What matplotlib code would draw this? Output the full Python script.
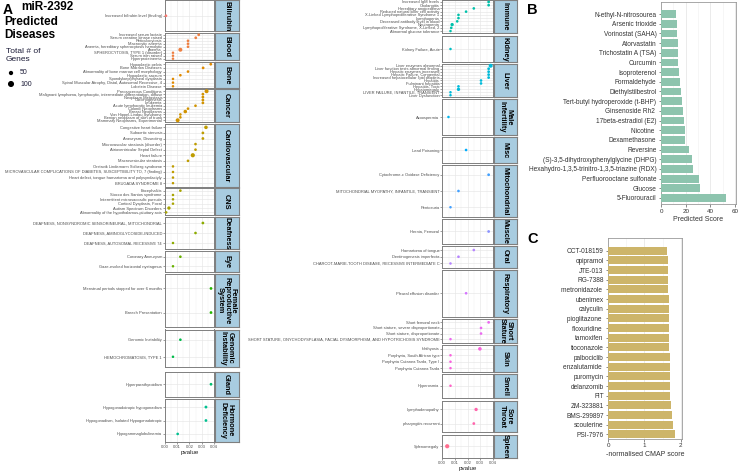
import numpy as np
import matplotlib
matplotlib.use('Agg')
import matplotlib.pyplot as plt

plt.rcParams['font.family'] = ['Liberation Sans', 'DejaVu Sans']

# ---- panel A data: disease categories, names, pvalues, gene counts ----
categories = ['Bilirubin', 'Blood', 'Bone', 'Cancer', 'Cardiovascular', 'CNS', 'Deafness', 'Eye',
              'Female\nReproductive\nSystem', 'Genomic\nInstability', 'Gland', 'Hormone\nDeficiency',
              'Immune', 'Kidney', 'Liver', 'Male\nInfertility', 'Misc', 'Mitochondrial', 'Muscle', 'Oral',
              'Respiratory', 'Short\nStature', 'Skin', 'Smell', 'Sore\nThroat', 'Spleen']

disease_names = [
    ['Increased bilirubin level (finding)'],
    ['Increased serum lactate', 'Serum creatine kinase raised', 'Reticulocytosis', 'Macrocytic anemia',
     'Anemia, hereditary spherocytosis hemolytic', 'Anemia', 'SPHEROCYTOSIS, TYPE 1 (disorder)',
     'Serum iron raised', 'Hyperproteinemia'],
    ['Hypoplastic pelvis', 'Bone Marrow Diseases', 'Abnormality of bone marrow cell morphology',
     'Hypoplastic sacrum', 'Spondyloepiphyseal dysplasia',
     'Spinal Muscular Atrophy, Distal, Autosomal Recessive, 4', 'Lobstein Disease'],
    ['Precancerous Conditions', 'Malignant lymphoma, lymphocytic, intermediate differentiation, diffuse',
     'Neoplasm Metastasis', 'Carcinogenesis', 'Leukemia', 'Acute lymphocytic leukemia', 'Colonic Neoplasms',
     'Breast Neoplasms', 'Von Hippel-Lindau Syndrome', 'Benign neoplasm of skin of trunk',
     'Mammary Neoplasms, Experimental'],
    ['Congestive heart failure', 'Subaortic stenosis', 'Aneurysm, Dissecting',
     'Microvascular steatosis (disorder)', 'Atrioventricular Septal Defect', 'Heart failure',
     'Macrovesicular steatosis', 'Orstavik Lindemann Solberg syndrome',
     'MICROVASCULAR COMPLICATIONS OF DIABETES, SUSCEPTIBILITY TO, 7 (finding)',
     'Heart defect, tongue hamartoma and polysyndactyly', 'BRUGADA SYNDROME 8'],
    ['Encephalitis', 'Stocco dos Santos syndrome', 'Intermittent microsaccadic pursuits',
     'Cortical Dysplasia, Focal', 'Autism Spectrum Disorders',
     'Abnormality of the hypothalamus-pituitary axis'],
    ['DEAFNESS, NONSYNDROMIC SENSORINEURAL, MITOCHONDRIAL', 'DEAFNESS, AMINOGLYCOSIDE-INDUCED',
     'DEAFNESS, AUTOSOMAL RECESSIVE 74'],
    ['Coronary Aneurysm', 'Gaze-evoked horizontal nystagmus'],
    ['Menstrual periods stopped for over 6 months', 'Breech Presentation'],
    ['Genomic Instability', 'HEMOCHROMATOSIS, TYPE 1'],
    ['Hyperparathyroidism'],
    ['Hypogonadotropic hypogonadism', 'Hypogonadism, Isolated Hypogonadotropic', 'Hypogammaglobulinemia'],
    ['Increased IgM levels', 'Cholangitis', 'Hereditary angioedema', 'Reduced natural killer cell activity',
     'X-Linked Lymphoproliferative Syndrome 1', 'Lymphopenia', 'Decreased antibody level in blood',
     'Neutropenia', 'Lymphoproliferative Syndrome, X-Linked, 2', 'Abnormal glucose tolerance'],
    ['Kidney Failure, Acute'],
    ['Liver enzymes abnormal', 'Liver function tests abnormal finding', 'Hepatic enzymes increased',
     'Hepatic Failure, Congenital', 'Increased hepatocellular lipid droplets', 'Hepatitis',
     'Fulminant hepatitis', 'Hepatitis, Toxic', 'Hepatomegaly', 'LIVER FAILURE, INFANTILE, TRANSIENT',
     'Liver Dysfunction'],
    ['Azoospermia'],
    ['Lead Poisoning'],
    ['Cytochrome-c Oxidase Deficiency', 'MITOCHONDRIAL MYOPATHY, INFANTILE, TRANSIENT', 'Pentosuria'],
    ['Hernia, Femoral'],
    ['Hamartoma of tongue', 'Dentinogenesis imperfecta', 'CHARCOT-MARIE-TOOTH DISEASE, RECESSIVE INTERMEDIATE C'],
    ['Pleural effusion disorder'],
    ['Short femoral neck', 'Short stature, severe disproportionate', 'Short stature, disproportionate',
     'SHORT STATURE, ONYCHODYSPLASIA, FACIAL DYSMORPHISM, AND HYPOTRICHOSIS SYNDROME'],
    ['Ichthyosis', 'Porphyria, South African type', 'Porphyria Cutanea Tarda, Type I', 'Porphyria Cutanea Tarda'],
    ['Hyperosmia'],
    ['Lymphadenopathy', 'pharyngitis recurrent'],
    ['Splenomegaly'],
]

disease_pvals = [
    [0.0010],
    [0.0276, 0.0252, 0.0189, 0.0189, 0.0189, 0.0127, 0.0067, 0.0067, 0.0067],
    [0.0374, 0.0312, 0.0189, 0.0127, 0.0067, 0.0067, 0.0067],
    [0.0340, 0.0310, 0.0310, 0.0310, 0.0310, 0.0250, 0.0189, 0.0167, 0.0127, 0.0127, 0.0105],
    [0.0335, 0.0310, 0.0310, 0.0250, 0.0250, 0.0228, 0.0189, 0.0067, 0.0067, 0.0067, 0.0067],
    [0.0127, 0.0067, 0.0067, 0.0067, 0.0034, 0.0012],
    [0.0310, 0.0250, 0.0067],
    [0.0127, 0.0067],
    [0.0376, 0.0376],
    [0.0127, 0.0067],
    [0.0376],
    [0.0335, 0.0335, 0.0105],
    [0.0366, 0.0366, 0.0249, 0.0188, 0.0128, 0.0128, 0.0118, 0.0078, 0.0071, 0.0065],
    [0.0065],
    [0.0382, 0.0366, 0.0366, 0.0366, 0.0366, 0.0306, 0.0306, 0.0128, 0.0128, 0.0065, 0.0065],
    [0.0049],
    [0.0188],
    [0.0366, 0.0128, 0.0065],
    [0.0366],
    [0.0249, 0.0128, 0.0065],
    [0.0188],
    [0.0366, 0.0306, 0.0306, 0.0065],
    [0.0297, 0.0065, 0.0065, 0.0065],
    [0.0065],
    [0.0267, 0.0249],
    [0.0039],
]

disease_genes = [
    [22],
    [24, 24, 22, 22, 22, 50, 20, 20, 20],
    [24, 24, 22, 22, 20, 20, 20],
    [50, 24, 24, 24, 24, 22, 22, 40, 22, 22, 50],
    [40, 24, 24, 22, 22, 55, 22, 20, 20, 20, 20],
    [22, 20, 20, 20, 35, 20],
    [24, 22, 20],
    [22, 20],
    [24, 24],
    [22, 20],
    [24],
    [26, 24, 22],
    [24, 24, 22, 22, 22, 22, 22, 35, 22, 20],
    [20],
    [50, 24, 24, 24, 24, 22, 22, 22, 35, 20, 20],
    [20],
    [22],
    [24, 22, 20],
    [24],
    [22, 22, 20],
    [22],
    [24, 22, 22, 20],
    [40, 20, 20, 20],
    [20],
    [35, 24],
    [55],
]

legend_genes = [50, 100]

# ---- panel B data ----
chem_names = ['N-ethyl-N-nitrosourea', 'Arsenic trioxide', 'Vorinostat (SAHA)', 'Atorvastatin',
              'Trichostatin A (TSA)', 'Curcumin', 'Isoproterenol', 'Formaldehyde', 'Diethylstilbestrol',
              'Tert-butyl hydroperoxide (t-BHP)', 'Ginsenoside Rh2 ', '17beta-estradiol (E2)', 'Nicotine ',
              'Dexamethasone', 'Reversine', '(S)-3,5-dihydroxyphenylglycine (DHPG)',
              'Hexahydro-1,3,5-trinitro-1,3,5-triazine (RDX)', 'Perfluorooctane sulfonate', 'Glucose',
              '5-Fluorouracil']
chem_scores = [11.9, 12.7, 13.0, 13.5, 13.8, 14.1, 14.9, 15.4, 16.2, 17.3, 17.6, 18.4, 19.5, 19.7,
               23.0, 24.9, 25.9, 31.1, 31.9, 53.0]

# ---- panel C data ----
cmap_names = ['CCT-018159', 'opipramol', 'JTE-013', 'RG-7388', 'metronidazole ', 'ubenimex', 'calyculin',
              'pioglitazone ', 'floxuridine ', 'tamoxifen', 'tioconazole', 'palbociclib', 'enzalutamide ',
              'puromycin', 'delanzomib', 'FIT', 'ZM-323881', 'BMS-299897', 'scoulerine', 'PSI-7976']
cmap_scores = [1.63, 1.64, 1.65, 1.65, 1.66, 1.67, 1.67, 1.67, 1.68, 1.69, 1.69, 1.70, 1.70, 1.71,
               1.72, 1.72, 1.74, 1.76, 1.78, 1.85]


def hue_pal(n, c=100.0, l=65.0):
    # ggplot2 default discrete hue palette (HCL -> sRGB)
    Xn, Yn, Zn = 95.047, 100.0, 108.883
    un = 4 * Xn / (Xn + 15 * Yn + 3 * Zn)
    vn = 9 * Yn / (Xn + 15 * Yn + 3 * Zn)
    M = np.array([[3.2406, -1.5372, -0.4986], [-0.9689, 1.8758, 0.0415], [0.0557, -0.2040, 1.0570]])
    out = []
    for h in np.linspace(15, 375, n + 1)[:-1]:
        u = c * np.cos(np.radians(h))
        v = c * np.sin(np.radians(h))
        Y = Yn * ((l + 16) / 116) ** 3
        up = u / (13 * l) + un
        vp = v / (13 * l) + vn
        X = Y * 9 * up / (4 * vp)
        Z = Y * (12 - 3 * up - 20 * vp) / (4 * vp)
        rgb = M @ (np.array([X, Y, Z]) / 100)
        rgb = np.clip(rgb, 0, None)
        rgb = np.where(rgb <= 0.0031308, 12.92 * rgb, 1.055 * rgb ** (1 / 2.4) - 0.055)
        out.append(np.clip(rgb, 0, 1))
    return out


W, H = 738, 473
fig = plt.figure(figsize=(W / 100, H / 100), dpi=100)


def px_axes(x0, y0, x1, y1, **kw):
    # add axes from pixel box (top-left origin)
    return fig.add_axes([x0 / W, 1 - y1 / H, (x1 - x0) / W, (y1 - y0) / H], **kw)


def size_of(g):
    return np.asarray(g, dtype=float) * 0.166


colors = hue_pal(len(categories))
strip_col = '#A8CCE0'
edge_col = '#7f7f7f'

# panel boxes in pixels: (top, bottom) per facet, left column then right column
left_rows = [(0.5, 31), (33, 60.5), (62, 88.5), (89.5, 122), (124, 186.5), (188, 215), (217, 249),
             (251, 272), (274, 327), (329.5, 367), (371.5, 397), (399, 442)]
right_rows = [(0, 33), (36, 62), (64, 97), (99, 135), (137, 163), (165, 217), (219, 244), (246, 267.5),
              (269.5, 317), (319, 342.5), (345, 372), (373.5, 398), (401, 432), (434.5, 458)]
columns = [((164.5, 214.2, 238.5), left_rows), ((442, 493.2, 517), right_rows)]

k = 0
for (x0, x1, xs), rows in columns:
    for j, (top, bot) in enumerate(rows):
        names = disease_names[k]
        n = len(names)
        ax = px_axes(x0, top, x1, bot)
        ax.scatter(disease_pvals[k], np.arange(n), s=size_of(disease_genes[k]), color=colors[k],
                   edgecolors='none', zorder=3, clip_on=False)
        ax.set_xlim(-0.0002, 0.0402)
        ax.set_ylim(n - 1 + 0.6, -0.6)
        ax.set_yticks(np.arange(n))
        ax.set_yticklabels(names, fontsize=2.85, color='#4d4d4d')
        ax.set_xticks([0, 0.01, 0.02, 0.03, 0.04])
        ax.set_xticks([0.005, 0.015, 0.025, 0.035], minor=True)
        ax.grid(which='major', color='#e6e6e6', lw=0.45)
        ax.grid(which='minor', axis='x', color='#f0f0f0', lw=0.3)
        ax.set_axisbelow(True)
        ax.tick_params(axis='y', length=1.2, width=0.4, pad=0.6, color='#555555')
        ax.tick_params(which='minor', length=0)
        for sp in ax.spines.values():
            sp.set_color(edge_col)
            sp.set_linewidth(0.7)
        if j == len(rows) - 1:
            ax.set_xticklabels(['0.00', '0.01', '0.02', '0.03', '0.04'])
            ax.tick_params(axis='x', length=1.2, width=0.4, pad=0.8, labelsize=3, colors='#4d4d4d')
            ax.set_xlabel('pvalue', fontsize=4.5, labelpad=0.8, color='#222222')
        else:
            ax.tick_params(axis='x', length=0, labelbottom=False)
        # facet strip
        sax = px_axes(x1 + 0.6, top, xs, bot)
        sax.set_facecolor(strip_col)
        sax.set_xticks([])
        sax.set_yticks([])
        for sp in sax.spines.values():
            sp.set_color(edge_col)
            sp.set_linewidth(0.8)
        sax.text(0.5, 0.5, categories[k], rotation=270, ha='center', va='center', ma='center',
                 fontsize=5.3, fontweight='bold', linespacing=0.95, transform=sax.transAxes)
        k += 1

# title, panel letters and size legend
fig.text(3 / W, 1 - 3 / H, 'A', fontsize=10, fontweight='bold', va='top')
fig.text(21 / W, 1 - 1.5 / H, 'miR-2392', fontsize=8.5, fontweight='bold', va='top')
fig.text(4 / W, 1 - 16 / H, 'Predicted', fontsize=8.5, fontweight='bold', va='top')
fig.text(4 / W, 1 - 29.5 / H, 'Diseases', fontsize=8.5, fontweight='bold', va='top')
fig.text(527 / W, 1 - 3 / H, 'B', fontsize=10.5, fontweight='bold', va='top')
fig.text(527 / W, 1 - 232 / H, 'C', fontsize=10.5, fontweight='bold', va='top')
fig.text(6 / W, 1 - 48 / H, 'Total # of\nGenes', fontsize=6, color='#1c1c38', va='top', linespacing=1.2)

lax = px_axes(0, 0, W, H)
lax.set_xlim(0, W)
lax.set_ylim(H, 0)
lax.axis('off')
lax.scatter([11, 11], [73, 84], s=size_of(legend_genes) * 1.15, color='black', edgecolors='none')
for g, yy in zip(legend_genes, [73, 84]):
    lax.text(20, yy, str(g), fontsize=5, va='center', color='#1c1c38')

# ---- panel B ----
axb = px_axes(661, 2, 735.5, 204)
yb = np.arange(len(chem_names))
axb.barh(yb, chem_scores, height=0.8, color='#8DC4AE', zorder=3)
axb.set_ylim(len(chem_names) - 1 + 0.62, -1.24)
axb.set_xlim(0, 60.3)
axb.set_yticks(yb)
axb.set_yticklabels(chem_names, fontsize=4.7, color='#333333')
axb.set_xticks([0, 20, 40, 60])
axb.set_xticks([10, 30, 50], minor=True)
axb.set_xlabel('Predicted Score', fontsize=5, color='#333333', labelpad=2)

# ---- panel C ----
axc = px_axes(608.3, 238.3, 681.7, 438.5)
yc = np.arange(len(cmap_names))
axc.barh(yc, cmap_scores, height=0.8, color='#CDB56A', zorder=3)
axc.set_ylim(len(cmap_names) - 1 + 0.43, -1.28)
axc.set_xlim(0, 2.03)
axc.set_yticks(yc)
axc.set_yticklabels(cmap_names, fontsize=4.7, color='#333333')
axc.set_xticks([0, 1, 2])
axc.set_xticks([0.5, 1.5], minor=True)
axc.set_xlabel('-normalised CMAP score', fontsize=5, color='#333333', labelpad=2)

for axx in (axb, axc):
    axx.grid(which='major', axis='x', color='#e3e3e3', lw=0.5)
    axx.grid(which='minor', axis='x', color='#efefef', lw=0.4)
    axx.set_axisbelow(True)
    axx.tick_params(axis='both', length=1.8, width=0.4, pad=1.5, colors='#333333')
    axx.tick_params(axis='x', labelsize=4.5)
    axx.tick_params(which='minor', length=0)
    for sp in axx.spines.values():
        sp.set_color('#9a9a9a')
        sp.set_linewidth(0.6)

fig.savefig('out.png', dpi=100)
